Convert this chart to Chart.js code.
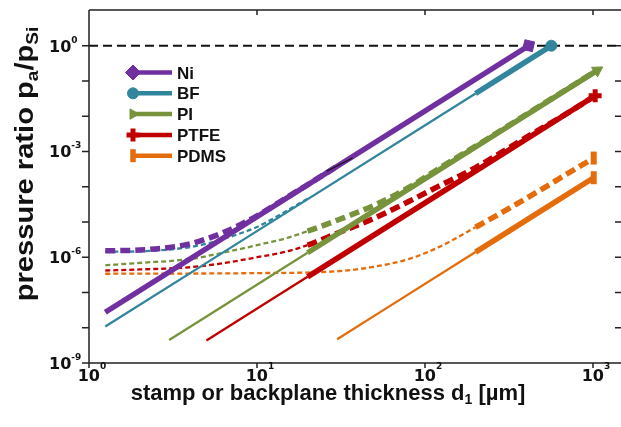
<!DOCTYPE html>
<html>
<head>
<meta charset="utf-8">
<script src="https://cdn.jsdelivr.net/npm/chart.js@4.4.0/dist/chart.umd.min.js"></script>
<style>
  html, body { margin: 0; padding: 0; background: #fff; }
  canvas { display: block; }
</style>
</head>
<body>
<canvas id="chart" width="621" height="427"></canvas>
<script>
// d1 = stamp or backplane thickness [µm], p = pressure ratio pa/pSi

// straight power-law lines
const niD = [1.25, 414]
const niP = [2.75e-8, 1]
const bfD = [1.25, 200, 565]
const bfP = [1.08e-8, 4.4e-2, 1]
const piD = [3, 20, 1060]
const piP = [4.5e-9, 1.34e-6, 0.2]
const ptfeD = [5, 20, 1030]
const ptfeP = [4.35e-9, 2.78e-7, 0.038]
const pdmsD = [30, 200, 1010]
const pdmsP = [4.72e-9, 1.4e-6, 1.8e-4]

// dashed curves (with plateau at small d1)
const niDashD = [1.25, 2, 3, 4, 5, 6.3, 8, 10, 14, 20, 30]
const niDashP = [1.52e-6, 1.6e-6, 1.9e-6, 2.4e-6, 3.3e-6, 5.0e-6, 8.5e-6, 1.5e-5, 4.0e-5, 1.14e-4, 3.8e-4]
const bfDashD = [1.25, 2, 3, 4, 5, 6.3, 8, 10, 14, 20]
const bfDashP = [1.43e-6, 1.47e-6, 1.65e-6, 1.95e-6, 2.4e-6, 3.3e-6, 4.8e-6, 7.2e-6, 1.7e-5, 4.6e-5]
const piDashD = [1.25, 2, 4, 6.3, 10, 15, 20, 30, 50, 80, 120, 200, 400, 1060]
const piDashP = [5.9e-7, 6.9e-7, 8.9e-7, 1.35e-6, 2.2e-6, 3.5e-6, 5.5e-6, 1.12e-5, 3.0e-5, 9.5e-5, 3.2e-4, 1.41e-3, 1.12e-2, 0.2]
const ptfeDashD = [1.25, 2, 4, 6.3, 10, 15, 20, 30, 50, 80, 120, 200, 400, 700, 1030]
const ptfeDashP = [4.2e-7, 4.5e-7, 5.2e-7, 6.8e-7, 1.0e-6, 1.45e-6, 2.2e-6, 4.8e-6, 1.29e-5, 3.8e-5, 1.02e-4, 3.5e-4, 2.5e-3, 1.2e-2, 0.038]
const pdmsDashD = [1.25, 10, 30, 50, 80, 120, 200, 300, 500, 700, 1010]
const pdmsDashP = [3.4e-7, 3.55e-7, 4.0e-7, 5.4e-7, 8.9e-7, 1.9e-6, 7.1e-6, 2.1e-5, 8.7e-5, 2.3e-4, 6.5e-4]

// short black stroke lying on the Ni line
const markD = [26, 37]
const markP = [2.75e-4, 6.5e-4]

// reference level pa = pSi
const refD = [1, 1468]
const refP = [1, 1]

// lines get thick from this d1 on
const niThick = 1
const bfThick = 200
const piThick = 20
const ptfeThick = 20
const pdmsThick = 200

// axes
const xTicks = [1, 10, 100, 1000]
const xTickExp = ['0', '1', '2', '3']
const yTicks = [1e-9, 1e-8, 1e-7, 1e-6, 1e-5, 1e-4, 1e-3, 1e-2, 1e-1, 1]
const yLabelTicks = [1, 1e-3, 1e-6, 1e-9]
const yTickExp = ['0', '-3', '-6', '-9']

const legendNames = ['Ni', 'BF', 'PI', 'PTFE', 'PDMS']

const colors = {
  Ni: '#7030A0',
  BF: '#31859C',
  PI: '#77933C',
  PTFE: '#C00000',
  PDMS: '#E46C0A'
}
const markers = {
  Ni: { style: 'rectRot', radius: 7, rotation: -32, border: 1 },
  BF: { style: 'circle', radius: 5.5, rotation: 0, border: 1 },
  PI: { style: 'triangle', radius: 6.5, rotation: 58, border: 1 },
  PTFE: { style: 'cross', radius: 6.5, rotation: 0, border: 5 },
  PDMS: { style: 'line', radius: 6.5, rotation: 90, border: 6 }
}
// legend symbols are not tilted
const legendMarkers = {
  Ni: { style: 'rectRot', radius: 7.5, rotation: 0, border: 1 },
  BF: { style: 'circle', radius: 5.5, rotation: 0, border: 1 },
  PI: { style: 'triangle', radius: 6, rotation: 90, border: 1 },
  PTFE: { style: 'cross', radius: 6.5, rotation: 0, border: 5 },
  PDMS: { style: 'line', radius: 6.5, rotation: 90, border: 5.5 }
}

const THICK = 5.5
const THIN = 2.3

const pts = (d, p) => d.map((x, i) => ({ x, y: p[i] }))

function line(d, p, color, thickFrom, dashed, marker) {
  const last = d.length - 1
  return {
    data: pts(d, p),
    borderColor: color,
    backgroundColor: color,
    borderWidth: THIN,
    borderDash: dashed ? [5, 3] : [],
    cubicInterpolationMode: 'monotone',
    segment: {
      borderWidth: c => (c.p0.parsed.x >= thickFrom - 1e-9 ? THICK : THIN),
      borderDash: c => (dashed ? (c.p0.parsed.x >= thickFrom - 1e-9 ? [10, 5] : [5, 3]) : [])
    },
    pointRadius: c => (marker && c.dataIndex === last ? marker.radius : 0),
    pointHoverRadius: 0,
    pointStyle: marker ? marker.style : 'circle',
    rotation: marker ? marker.rotation : 0,
    pointBorderWidth: marker ? marker.border : 0,
    pointBackgroundColor: color,
    pointBorderColor: color
  }
}

const datasets = [
  { data: pts(markD, markP), borderColor: '#111', borderWidth: 1.2, pointRadius: 0 },
  line(niD, niP, colors.Ni, niThick, false, markers.Ni),
  line(bfD, bfP, colors.BF, bfThick, false, markers.BF),
  line(piD, piP, colors.PI, piThick, false, markers.PI),
  line(ptfeD, ptfeP, colors.PTFE, ptfeThick, false, markers.PTFE),
  line(pdmsD, pdmsP, colors.PDMS, pdmsThick, false, markers.PDMS),
  line(niDashD, niDashP, colors.Ni, niThick, true, null),
  line(bfDashD, bfDashP, colors.BF, 1e9, true, null),
  line(piDashD, piDashP, colors.PI, piThick, true, null),
  line(ptfeDashD, ptfeDashP, colors.PTFE, ptfeThick, true, null),
  line(pdmsDashD, pdmsDashP, colors.PDMS, pdmsThick, true, markers.PDMS),
  { data: pts(refD, refP), borderColor: '#111', borderWidth: 2, borderDash: [9, 5], pointRadius: 0 }
]

// draws text pieces with sub/superscripts one after another
function richText(ctx, parts, x, y, align) {
  let total = 0
  parts.forEach(p => { ctx.font = p[1]; total += ctx.measureText(p[0]).width })
  let cx = align === 'center' ? x - total / 2 : x
  parts.forEach(p => {
    ctx.font = p[1]
    ctx.fillText(p[0], cx, y + p[2])
    cx += ctx.measureText(p[0]).width
  })
}

const TICK_FONT = 'bold 16px "DejaVu Sans"'
const SUP_FONT = 'bold 9px "DejaVu Sans"'
const LABEL_FONT = '"Liberation Sans", Arial, sans-serif'

const frame = {
  id: 'frame',
  afterDatasetsDraw(chart) {
    const { ctx, chartArea: a, scales: { x, y } } = chart
    ctx.save()
    ctx.strokeStyle = '#222'
    ctx.lineWidth = 1.5
    ctx.setLineDash([])
    ctx.beginPath()
    ctx.moveTo(a.left, a.top)
    ctx.lineTo(a.right, a.top)
    ctx.moveTo(a.left, a.top)
    ctx.lineTo(a.left, a.bottom)
    ctx.lineTo(a.right, a.bottom)
    yTicks.forEach(v => {
      const py = y.getPixelForValue(v)
      ctx.moveTo(a.left - 7, py)
      ctx.lineTo(a.left, py)
      ctx.moveTo(a.right - 6, py)
      ctx.lineTo(a.right, py)
    })
    xTicks.forEach(v => {
      const px = x.getPixelForValue(v)
      ctx.moveTo(px, a.bottom)
      ctx.lineTo(px, a.bottom + 5)
      ctx.moveTo(px, a.top)
      ctx.lineTo(px, a.top + 5)
    })
    ctx.stroke()

    // tick labels
    ctx.fillStyle = '#111'
    ctx.textAlign = 'left'
    ctx.textBaseline = 'alphabetic'
    yLabelTicks.forEach((v, i) => {
      const py = y.getPixelForValue(v)
      richText(ctx, [['10', TICK_FONT, 0], [yTickExp[i], SUP_FONT, -9]], 49, py + 6, 'left')
    })
    xTicks.forEach((v, i) => {
      const px = x.getPixelForValue(v)
      richText(ctx, [['10', TICK_FONT, 0], [xTickExp[i], SUP_FONT, -12]], px + 3, a.bottom + 18, 'center')
    })

    // axis titles
    richText(ctx, [
      ['stamp or backplane thickness d', 'bold 22px ' + LABEL_FONT, 0],
      ['1', 'bold 14px ' + LABEL_FONT, 4],
      [' [µm]', 'bold 22px ' + LABEL_FONT, 0]
    ], 328, 400, 'center')

    ctx.save()
    ctx.translate(33, 164)
    ctx.rotate(-Math.PI / 2)
    ctx.scale(1.12, 1)
    richText(ctx, [
      ['pressure ratio p', 'bold 26px ' + LABEL_FONT, 0],
      ['a', 'bold 17px ' + LABEL_FONT, 5],
      ['/p', 'bold 26px ' + LABEL_FONT, 0],
      ['Si', 'bold 17px ' + LABEL_FONT, 5]
    ], 0, 0, 'center')
    ctx.restore()

    // legend: marker at the left end of a short line
    legendNames.forEach((name, i) => {
      const ry = 72.5 + i * 20.8
      const c = colors[name]
      const m = legendMarkers[name]
      ctx.strokeStyle = c
      ctx.fillStyle = c
      ctx.lineWidth = 4.5
      ctx.beginPath()
      ctx.moveTo(132, ry)
      ctx.lineTo(172, ry)
      ctx.stroke()
      ctx.lineWidth = m.border
      Chart.helpers.drawPoint(ctx, {
        pointStyle: m.style,
        radius: m.radius,
        rotation: m.rotation,
        borderWidth: m.border
      }, 133, ry)
      ctx.fillStyle = '#111'
      ctx.font = 'bold 17px ' + LABEL_FONT
      ctx.fillText(name, 177, ry + 6)
    })
    ctx.restore()
  }
}

new Chart(document.getElementById('chart'), {
  type: 'line',
  data: { datasets },
  options: {
    responsive: false,
    devicePixelRatio: 1,
    animation: false,
    layout: { autoPadding: false, padding: { left: 89, top: 10, right: 0, bottom: 64 } },
    plugins: { legend: { display: false }, tooltip: { enabled: false } },
    scales: {
      x: { type: 'logarithmic', display: false, min: 1, max: 1468 },
      y: { type: 'logarithmic', display: false, min: 1e-9, max: 10.3 }
    }
  },
  plugins: [frame]
})
</script>
</body>
</html>
